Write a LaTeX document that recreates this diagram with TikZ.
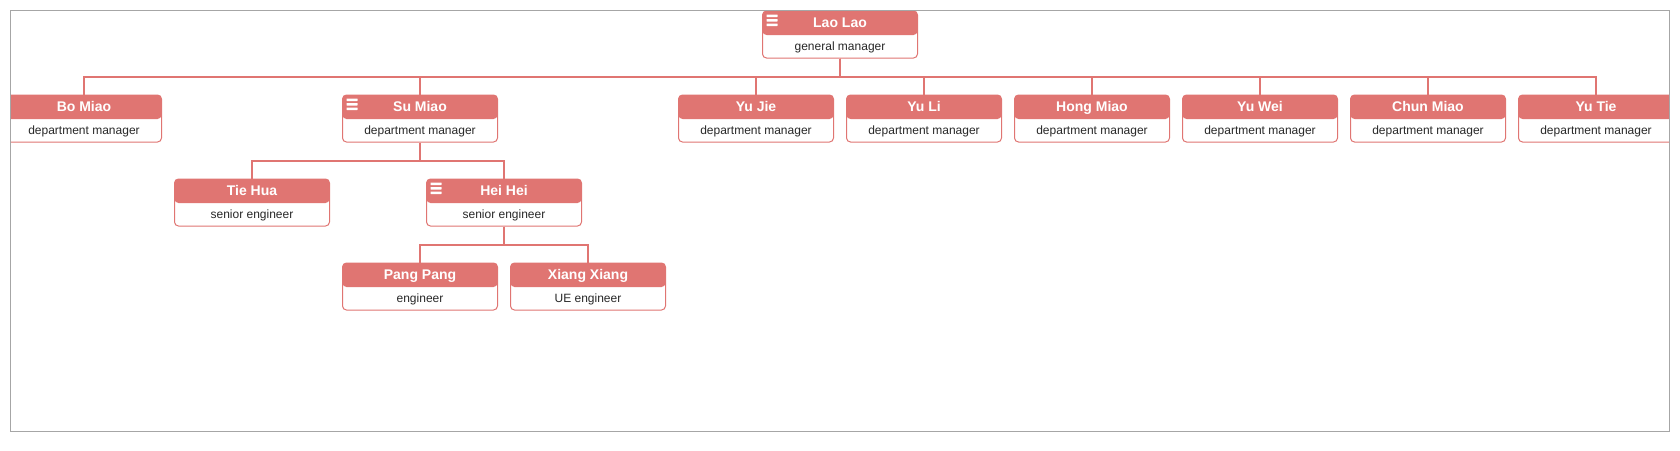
\documentclass[tikz,border=0pt]{standalone}
\usepackage{fontspec}
\setmainfont{Liberation Sans}

\definecolor{salmon}{RGB}{224,117,114}
\definecolor{ink}{RGB}{40,40,40}

\tikzset{
  card/.style={draw=salmon, line width=1pt, rounded corners=4pt, fill=white,
    minimum width=155pt, minimum height=47pt, inner sep=0pt,
    path picture={\fill[salmon] (path picture bounding box.north west)
      rectangle ([yshift=-0.5pt]path picture bounding box.east);}},
  nm/.style={anchor=base, inner sep=0pt, text=white,
    font=\bfseries\fontsize{14}{16}\selectfont},
  tl/.style={anchor=base, inner sep=0pt, text=ink,
    font=\fontsize{12}{14}\selectfont},
  link/.style={draw=salmon, line width=2pt},
  frame/.style={draw=black!35, line width=1pt}
}

% one org-chart card: id, x, y, name, title
\newcommand\member[5]{%
  \node[card] (#1) at (#2,#3) {};
  \node[nm] (#1-n) at ([yshift=-17.3pt]#1.north) {#4};
  \node[tl] (#1-t) at ([yshift=-39.7pt]#1.north) {#5};
}
% menu icon of a card with children
\newcommand\burger[1]{%
  \foreach \k in {0,1,2}
    \fill[white, rounded corners=0.4pt]
      ([xshift=4.5pt,yshift=-4pt-\k*4.5pt]#1.north west) rectangle ++(11pt,-2.6pt);
}

\begin{document}
\begin{tikzpicture}[x=1pt,y=-1pt]
  \useasboundingbox (0,0) rectangle (1680,450);
  \begin{scope}
    \clip (10.5,10.5) rectangle (1669,431);
    \member{lao}{840}{34.5}{Lao Lao}{general manager}
    \member{bo}{84}{118.5}{Bo Miao}{department manager}
    \member{su}{420}{118.5}{Su Miao}{department manager}
    \member{jie}{756}{118.5}{Yu Jie}{department manager}
    \member{li}{924}{118.5}{Yu Li}{department manager}
    \member{hong}{1092}{118.5}{Hong Miao}{department manager}
    \member{wei}{1260}{118.5}{Yu Wei}{department manager}
    \member{chun}{1428}{118.5}{Chun Miao}{department manager}
    \member{tie}{1596}{118.5}{Yu Tie}{department manager}
    \member{hua}{252}{202.5}{Tie Hua}{senior engineer}
    \member{hei}{504}{202.5}{Hei Hei}{senior engineer}
    \member{pang}{420}{286.5}{Pang Pang}{engineer}
    \member{xiang}{588}{286.5}{Xiang Xiang}{UE engineer}
    \burger{lao} \burger{su} \burger{hei}

    % elbow links parent -> children
    \foreach \c in {bo,su,jie,li,hong,wei,chun,tie}
      \draw[link] (lao.south) -- ++(0,18.5) -| (\c.north);
    \foreach \c in {hua,hei}
      \draw[link] (su.south) -- ++(0,18.5) -| (\c.north);
    \foreach \c in {pang,xiang}
      \draw[link] (hei.south) -- ++(0,18.5) -| (\c.north);
  \end{scope}
  \draw[frame] (10.5,10.5) rectangle (1669,431);
\end{tikzpicture}
\end{document}
